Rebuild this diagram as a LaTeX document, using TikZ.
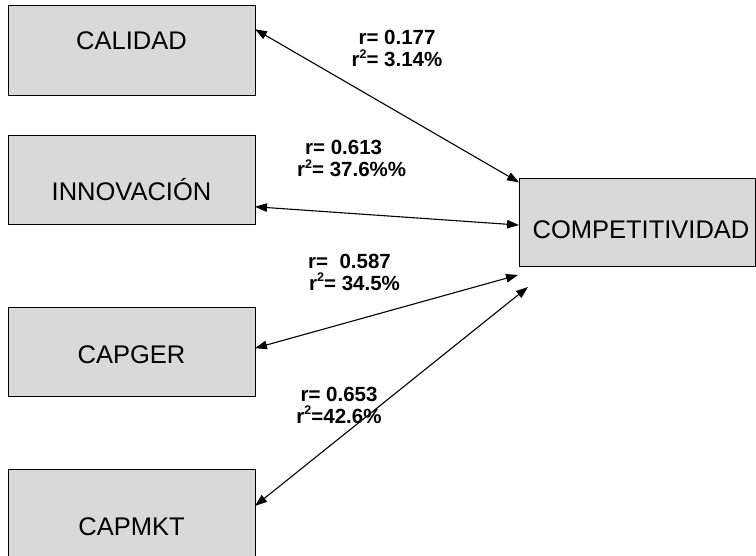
\documentclass[tikz,border=0pt]{standalone}
\usepackage{fontspec}
\setmainfont{Liberation Sans}
\usetikzlibrary{arrows.meta}
\definecolor{boxgray}{RGB}{217,217,217}
\newcommand{\sq}{r\raisebox{0.42em}{\fontsize{12.5}{12.5}\selectfont 2}}
\tikzset{
  box/.style={draw=black, fill=boxgray, line width=1pt, minimum width=247pt, minimum height=89pt, inner sep=0pt, outer sep=0pt},
  boxtext/.style={font=\fontsize{25.5}{30}\selectfont, inner sep=0pt, text height=18.3pt, text depth=0pt},
  coef/.style={font=\fontsize{20.5}{22}\selectfont\bfseries, inner sep=0pt},
  link/.style={<->, >={Triangle[length=12pt,width=8.5pt]}, line width=1.1pt},
}
\begin{document}
\begin{tikzpicture}[x=1pt, y=-1pt]
        \useasboundingbox (0,0) rectangle (756,556);
        % Correlation of each factor with competitiveness
        \foreach \nm/\txt/\cy/\ty/\bh in {calidad/CALIDAD/51/40.5/90,innovacion/INNOVACIÓN/180.5/191.7/89,capger/CAPGER/352.5/354.5/89,capmkt/CAPMKT/514.5/526/91}
        {
            \node[box, minimum height=\bh pt] (\nm) at (131.5,\cy) {};
            \node[boxtext] (\nm txt) at (131.5,\ty) {\txt};
        }
        \node[box, minimum width=236pt, minimum height=88pt] (compet) at (637,223) {};
        \node[boxtext] (compettxt) at (641,229) {COMPETITIVIDAD};
        \coordinate (c3) at ([shift={(-1,8)}]compet.south west);
        \coordinate (c4) at ([shift={(9,20)}]compet.south west);

        \draw[link] (calidad.10) -- (compet.161);
        \draw[link] (innovacion.-12) -- (compet.181);
        \draw[link] (capger.2) -- (c3);
        \draw[link] (capmkt.4) -- (c4);

        \node[coef, align=center] (lab1) at (397,48.75) {r= 0.177\\\sq= 3.14\%};
        \node[coef, align=left, anchor=west] (lab2) at (297,158.75) {\hspace*{8pt}r= 0.613\\\sq= 37.6\%\%};
        \node[coef, align=left, anchor=west] (lab3) at (308,272.5) {r=\ \ 0.587\\\hspace*{1pt}\sq= 34.5\%};
        \node[coef, align=center] (lab4) at (339,405) {r= 0.653\\\sq=42.6\%};
    \end{tikzpicture}
\end{document}
